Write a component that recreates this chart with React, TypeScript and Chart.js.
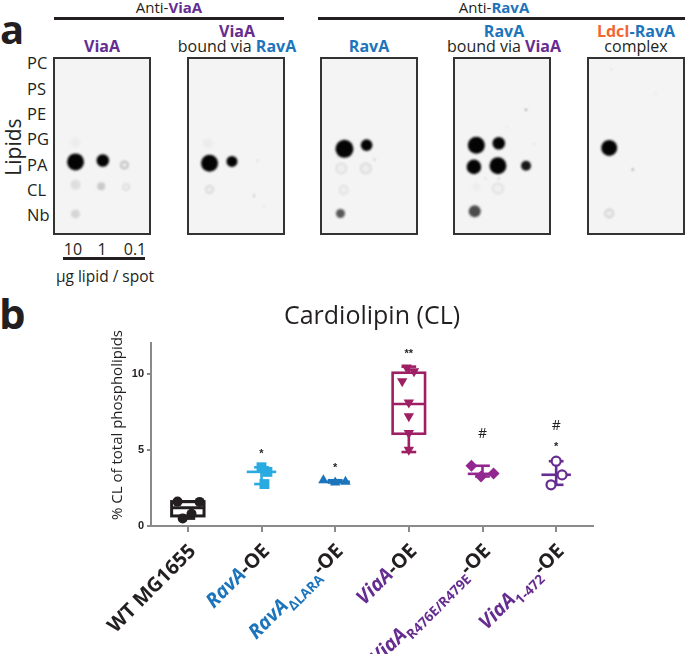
import React, { useEffect, useRef } from "react";
import { Chart, registerables } from "chart.js";

Chart.register(...registerables);

// ---------------- Panel a : dot blots ----------------
const LIPIDS = ["PC", "PS", "PE", "PG", "PA", "CL", "Nb"];
const DOSES = ["10", "1", "0.1"];

// each blot: spot column (dose units 0..3), row (lipid index), spot radius, darkness (0..1), ring (1 = hollow-looking)
const blot1Cols = [0.52, 1.53, 2.33, 0.52, 1.47, 2.39, 0.52, 0.52];
const blot1Rows = [3.93, 3.87, 4.07, 4.93, 4.99, 5.03, 6.2, 3.08];
const blot1Size = [8.5, 6.3, 3.5, 5, 4, 3, 4.5, 5];
const blot1Dark = [1, 1, 0.12, 0.09, 0.18, 0.05, 0.13, 0.035];
const blot1Ring = [0, 0, 1, 0, 0, 1, 0, 0];

const blot2Cols = [0.52, 1.35, 0.46, 0.52, 2.3, 2.17, 2.54];
const blot2Rows = [3.99, 3.91, 3.12, 5.13, 3.87, 5.41, 5.84];
const blot2Size = [8.5, 5.5, 5, 3.5, 0.8, 1, 0.7];
const blot2Dark = [1, 1, 0.035, 0.06, 0.3, 0.3, 0.2];
const blot2Ring = [0, 0, 0, 1, 0, 0, 0];

const blot3Cols = [0.58, 1.41, 0.46, 1.38, 0.55, 0.43, 1.71];
const blot3Rows = [3.36, 3.2, 4.22, 4.22, 5.17, 6.2, 3.83];
const blot3Size = [9, 5.8, 5, 5, 4, 4.5, 0.8];
const blot3Dark = [1, 1, 0.05, 0.06, 0.045, 0.65, 0.4];
const blot3Ring = [0, 0, 1, 1, 1, 0, 0];

const blot4Cols = [0.55, 1.38, 0.46, 1.35, 2.39, 0.55, 1.35, 0.49, 0.89, 1.38, 2.69, 1.68, 2.39];
const blot4Rows = [3.2, 3.12, 4.15, 4.1, 4.1, 5.01, 5.09, 6.08, 4.66, 4.66, 3.16, 2.41, 1.66];
const blot4Size = [8.5, 6.3, 7.3, 8.5, 5, 4, 5, 6, 0.7, 0.8, 0.7, 0.6, 1];
const blot4Dark = [1, 1, 1, 1, 0.92, 0.03, 0.045, 0.7, 0.3, 0.3, 0.2, 0.2, 0.5];
const blot4Ring = [0, 0, 0, 0, 0, 0, 1, 0, 0, 0, 0, 0, 0];

const blot5Cols = [0.52, 0.52, 1.38, 0.6, 2.22];
const blot5Rows = [3.32, 6.16, 4.26, -0.08, 0.95];
const blot5Size = [8, 4, 1, 0.6, 0.6];
const blot5Dark = [1, 0.08, 0.5, 0.3, 0.25];
const blot5Ring = [0, 1, 0, 0, 0];

// ---------------- Panel b : cardiolipin ----------------
const GROUPS = ["WT MG1655", "RavA-OE", "RavAΔLARA-OE", "ViaA-OE", "ViaAR476E/R479E-OE", "ViaA1-472-OE"];
const Y_TICKS = [0, 5, 10];

const wtCL = [1.6, 1.58, 0.8, 0.5];
const wtJitter = [-0.14, 0.16, 0.05, -0.07];
const ravaCL = [3.85, 3.55, 2.75];
const ravaJitter = [0, 0.08, 0.04];
const laraCL = [3.0, 2.85, 2.9];
const laraJitter = [-0.16, 0, 0.14];
const viaCL = [10.4, 10.15, 9.5, 8.1, 7.2, 6.1, 5.0];
const viaJitter = [-0.03, 0.07, -0.09, 0, 0, 0, 0];
const r476CL = [3.95, 3.45, 3.25];
const r476Jitter = [-0.15, 0.15, -0.02];
const truncCL = [4.25, 3.35, 2.7];
const truncJitter = [0, 0.08, -0.07];

const medians = [1.2, 3.55, 2.9, 8.0, 3.42, 3.36];
const mins = [0.5, 2.75, 2.85, 4.85, 3.25, 2.7];
const maxs = [1.6, 3.85, 3.0, 10.45, 3.95, 4.25];
const q1s = [0.66, null, null, 6.05, null, null];
const q3s = [1.6, null, null, 10.05, null, null];

const sigGroup = [1, 2, 3, 4, 5, 5];
const sigY = [4.75, 3.8, 11.25, 6.0, 6.55, 5.15];
const sigText = ["*", "*", "**", "#", "#", "*"];

const INK = "#231f20";
const CYAN = "#29abe2";
const BLUE = "#1c75bc";
const MAGENTA = "#9e1f63";
const VIOLET = "#92278f";
const PURPLE = "#662d91";
const ORANGE = "#f26532";
const AXIS = "#8a8a8a";
const GROUP_COLORS = [INK, CYAN, BLUE, MAGENTA, VIOLET, PURPLE];

type Part = { t: string; c: string; it?: boolean; sub?: boolean };
const xLabelParts: Part[][] = [
  [{ t: "WT MG1655", c: INK }],
  [{ t: "RavA", c: BLUE, it: true }, { t: "-OE", c: INK }],
  [{ t: "RavA", c: BLUE, it: true }, { t: "ΔLARA", c: BLUE, sub: true }, { t: "-OE", c: INK }],
  [{ t: "ViaA", c: PURPLE, it: true }, { t: "-OE", c: INK }],
  [{ t: "ViaA", c: PURPLE, it: true }, { t: "R476E/R479E", c: PURPLE, sub: true }, { t: "-OE", c: INK }],
  [{ t: "ViaA", c: PURPLE, it: true }, { t: "1-472", c: PURPLE, sub: true }, { t: "-OE", c: INK }],
];

const gray = (d: number) => {
  const v = Math.round(244 - 240 * Math.min(1, d));
  return `rgb(${v},${v},${v})`;
};

const blotPlugin = {
  id: "blotLook",
  beforeDraw(chart: any) {
    const { ctx, width, height } = chart;
    ctx.save();
    ctx.fillStyle = "#f4f4f4";
    ctx.fillRect(0, 0, width, height);
    ctx.restore();
  },
  beforeDatasetsDraw(chart: any) {
    chart.ctx.save();
    chart.ctx.filter = "blur(1.1px)";
  },
  afterDatasetsDraw(chart: any) {
    chart.ctx.restore();
  },
  afterDraw(chart: any) {
    const { ctx, width, height } = chart;
    ctx.save();
    ctx.strokeStyle = "#333";
    ctx.lineWidth = 2;
    ctx.strokeRect(1, 1, width - 2, height - 2);
    ctx.restore();
  },
};

const BLOT_W = 98;
const BLOT_H = 178;
const BLOT_TOP = 57;

function Blot(props: { left: number; cols: number[]; rows: number[]; size: number[]; dark: number[]; ring: number[] }) {
  const ref = useRef<HTMLCanvasElement>(null);
  useEffect(() => {
    const { cols, rows, size, dark, ring } = props;
    const chart = new Chart(ref.current as HTMLCanvasElement, {
      type: "scatter",
      data: {
        datasets: [
          {
            data: cols.map((c, i) => ({ x: c, y: rows[i] })),
            pointRadius: size,
            pointHoverRadius: size,
            backgroundColor: dark.map((d, i) => (ring[i] ? gray(d * 0.4) : gray(d))),
            borderColor: dark.map((d, i) => (ring[i] ? gray(d * 2.2) : gray(d))),
            borderWidth: ring.map((r) => (r ? 1.5 : 0)),
            clip: false as any,
          },
        ],
      },
      options: {
        animation: false,
        responsive: false,
        events: [],
        layout: { padding: 0 },
        plugins: { legend: { display: false }, tooltip: { enabled: false } },
        scales: {
          x: { type: "linear", display: false, min: 0, max: DOSES.length },
          y: { type: "linear", display: false, min: -0.276, max: 6.75, reverse: true },
        },
      },
      plugins: [blotPlugin],
    });
    return () => chart.destroy();
  }, []);
  return (
    <canvas
      ref={ref}
      width={BLOT_W}
      height={BLOT_H}
      style={{ position: "absolute", left: props.left, top: BLOT_TOP, width: BLOT_W, height: BLOT_H }}
    />
  );
}

const cardioPlugin = {
  id: "cardio",
  beforeDatasetsDraw(chart: any) {
    const { ctx } = chart;
    const x = chart.scales.x;
    const y = chart.scales.y;
    ctx.save();
    GROUPS.forEach((_, i) => {
      const col = GROUP_COLORS[i];
      ctx.strokeStyle = col;
      ctx.lineWidth = i === 0 ? 3 : 2.6;
      const X = (d: number) => x.getPixelForValue(i + d);
      const Y = (v: number) => y.getPixelForValue(v);
      const line = (x1: number, y1: number, x2: number, y2: number) => {
        ctx.beginPath();
        ctx.moveTo(x1, y1);
        ctx.lineTo(x2, y2);
        ctx.stroke();
      };
      const q1 = q1s[i];
      const q3 = q3s[i];
      if (q1 != null && q3 != null) {
        ctx.strokeRect(X(-0.22), Y(q3), X(0.22) - X(-0.22), Y(q1) - Y(q3));
        line(X(-0.22), Y(medians[i]), X(0.22), Y(medians[i]));
        line(X(0), Y(q3), X(0), Y(maxs[i]));
        line(X(0), Y(q1), X(0), Y(mins[i]));
      } else {
        line(X(-0.2), Y(medians[i]), X(0.2), Y(medians[i]));
        line(X(0), Y(mins[i]), X(0), Y(maxs[i]));
      }
      line(X(-0.1), Y(maxs[i]), X(0.1), Y(maxs[i]));
      line(X(-0.1), Y(mins[i]), X(0.1), Y(mins[i]));
    });
    ctx.restore();
  },
  afterDatasetsDraw(chart: any) {
    const { ctx } = chart;
    const x = chart.scales.x;
    const y = chart.scales.y;
    ctx.save();
    ctx.fillStyle = INK;
    ctx.textAlign = "center";
    ctx.textBaseline = "middle";
    sigText.forEach((t, k) => {
      ctx.font = t.includes("#") ? '14px "Open Sans"' : 'bold 11px "Liberation Sans"';
      ctx.fillText(t, x.getPixelForValue(sigGroup[k]), y.getPixelForValue(sigY[k]));
    });
    ctx.restore();
  },
  afterDraw(chart: any) {
    const { ctx } = chart;
    const x = chart.scales.x;
    const y = chart.scales.y;
    // y-axis title
    ctx.save();
    ctx.translate(118, 135);
    ctx.rotate(-Math.PI / 2);
    ctx.font = '15px "Open Sans"';
    ctx.fillStyle = INK;
    ctx.textAlign = "center";
    ctx.textBaseline = "middle";
    ctx.fillText("% CL of total phospholipids", 0, 0);
    ctx.restore();
    // rotated rich category labels
    const F = 20;
    xLabelParts.forEach((parts, i) => {
      ctx.save();
      ctx.translate(x.getPixelForValue(i) + 4, y.bottom + 21);
      ctx.rotate(-Math.PI / 4);
      ctx.textAlign = "left";
      ctx.textBaseline = "alphabetic";
      let cx = 0;
      for (let k = parts.length - 1; k >= 0; k--) {
        const p = parts[k];
        ctx.font = p.sub
          ? 'bold 13.5px "Open Sans"'
          : `${p.it ? "italic " : ""}bold ${F}px "Open Sans"`;
        const w = ctx.measureText(p.t).width;
        cx -= w;
        ctx.fillStyle = p.c;
        ctx.fillText(p.t, cx, p.sub ? F * 0.36 + 6 : F * 0.36);
      }
      ctx.restore();
    });
  },
};

function Cardio() {
  const ref = useRef<HTMLCanvasElement>(null);
  useEffect(() => {
    const pts = (vals: number[], jit: number[], g: number) => vals.map((v, i) => ({ x: g + jit[i], y: v }));
    const chart = new Chart(ref.current as HTMLCanvasElement, {
      type: "scatter",
      data: {
        datasets: [
          { label: GROUPS[0], data: pts(wtCL, wtJitter, 0), pointStyle: "circle", pointRadius: 5, backgroundColor: INK, borderColor: INK, borderWidth: 0 },
          { label: GROUPS[1], data: pts(ravaCL, ravaJitter, 1), pointStyle: "rect", pointRadius: 7, backgroundColor: CYAN, borderColor: CYAN, borderWidth: 0 },
          { label: GROUPS[2], data: pts(laraCL, laraJitter, 2), pointStyle: "triangle", pointRadius: 6, backgroundColor: BLUE, borderColor: BLUE, borderWidth: 0 },
          { label: GROUPS[3], data: pts(viaCL, viaJitter, 3), pointStyle: "triangle", pointRotation: 180, pointRadius: 6, backgroundColor: MAGENTA, borderColor: MAGENTA, borderWidth: 0 },
          { label: GROUPS[4], data: pts(r476CL, r476Jitter, 4), pointStyle: "rectRot", pointRadius: 6, backgroundColor: VIOLET, borderColor: VIOLET, borderWidth: 0 },
          { label: GROUPS[5], data: pts(truncCL, truncJitter, 5), pointStyle: "circle", pointRadius: 4.5, backgroundColor: "#ffffff", borderColor: PURPLE, borderWidth: 2.2 },
        ] as any,
      },
      options: {
        animation: false,
        responsive: false,
        events: [],
        layout: { padding: { left: 0, right: 92, top: 0, bottom: 0 } },
        plugins: {
          legend: { display: false },
          tooltip: { enabled: false },
          title: {
            display: true,
            text: "Cardiolipin (CL)",
            fullSize: false,
            color: INK,
            font: { family: "Open Sans", size: 25, weight: "normal" },
            padding: { top: 12, bottom: 11 },
          },
        },
        scales: {
          x: {
            type: "linear",
            min: -0.5,
            max: GROUPS.length - 0.5,
            afterBuildTicks: (s: any) => {
              s.ticks = GROUPS.map((_, i) => ({ value: i }));
            },
            afterFit: (s: any) => {
              s.height = 128;
            },
            ticks: { display: false },
            grid: { display: true, drawOnChartArea: false, drawTicks: true, tickLength: 6, color: AXIS, lineWidth: 2 },
            border: { display: true, color: AXIS, width: 2 },
          },
          y: {
            type: "linear",
            min: 0,
            max: 12,
            afterBuildTicks: (s: any) => {
              s.ticks = Y_TICKS.map((v) => ({ value: v }));
            },
            afterFit: (s: any) => {
              s.width = 151;
            },
            ticks: { color: INK, padding: 3, font: { family: "Liberation Sans", size: 11, weight: "bold" } },
            grid: { display: true, drawOnChartArea: false, drawTicks: true, tickLength: 4, color: AXIS, lineWidth: 2 },
            border: { display: true, color: AXIS, width: 2 },
          },
        },
      },
      plugins: [cardioPlugin],
    });
    return () => chart.destroy();
  }, []);
  return <canvas ref={ref} width={685} height={364} style={{ position: "absolute", left: 0, top: 290, width: 685, height: 364 }} />;
}

// centred text helper (x, y = visual centre of caps)
function T(props: { x: number; y: number; size?: number; bold?: boolean; align?: "center" | "left"; children: React.ReactNode; color?: string }) {
  const size = props.size ?? 15;
  const align = props.align ?? "center";
  return (
    <div
      style={{
        position: "absolute",
        left: align === "center" ? props.x - 150 : props.x,
        width: align === "center" ? 300 : undefined,
        top: props.y - 0.53 * size,
        fontSize: size,
        lineHeight: `${size}px`,
        fontWeight: props.bold ? 700 : 400,
        textAlign: align,
        whiteSpace: "nowrap",
        color: props.color ?? INK,
        fontFamily: '"Open Sans", sans-serif',
      }}
    >
      {props.children}
    </div>
  );
}

const B = (c: string, t: string) => <span style={{ color: c, fontWeight: 700 }}>{t}</span>;

function Bar(props: { x1: number; x2: number; y: number }) {
  return <div style={{ position: "absolute", left: props.x1, top: props.y - 1.5, width: props.x2 - props.x1, height: 3, background: INK }} />;
}

export default function App() {
  const rowYs = LIPIDS.map((_, i) => 64 + 25.33 * i);
  return (
    <div style={{ position: "absolute", left: 0, top: 0, width: 685, height: 654, overflow: "hidden", background: "#fff", fontFamily: '"Open Sans", sans-serif' }}>
      {/* panel letters */}
      <T x={0} y={30} size={40} bold align="left">a</T>
      <T x={-1} y={314} size={42} bold align="left">b</T>

      {/* group headers */}
      <T x={169} y={8}>Anti-{B(PURPLE, "ViaA")}</T>
      <Bar x1={54} x2={284} y={18} />
      <T x={494} y={8}>Anti-{B(BLUE, "RavA")}</T>
      <Bar x1={318} x2={685} y={18} />

      <T x={102} y={46} size={16}>{B(PURPLE, "ViaA")}</T>
      <T x={237} y={31} size={16}>{B(PURPLE, "ViaA")}</T>
      <T x={237} y={46} size={16}>bound via {B(BLUE, "RavA")}</T>
      <T x={369} y={46} size={16}>{B(BLUE, "RavA")}</T>
      <T x={504} y={31} size={16}>{B(BLUE, "RavA")}</T>
      <T x={504} y={46} size={16}>bound via {B(PURPLE, "ViaA")}</T>
      <T x={636} y={31} size={16}>{B(ORANGE, "LdcI")}{B(BLUE, "-RavA")}</T>
      <T x={636} y={46} size={16}>complex</T>

      {/* lipid rows */}
      {LIPIDS.map((l, i) => (
        <T key={l} x={27} y={rowYs[i]} size={16.5} align="left">{l}</T>
      ))}
      <div
        style={{
          position: "absolute",
          left: 13,
          top: 147,
          transform: "translate(-50%, -50%) rotate(-90deg)",
          fontSize: 21,
          lineHeight: "21px",
          color: INK,
          whiteSpace: "nowrap",
        }}
      >
        Lipids
      </div>

      {/* dose labels */}
      <T x={73} y={249} size={16}>{DOSES[0]}</T>
      <T x={102} y={249} size={16}>{DOSES[1]}</T>
      <T x={135} y={249} size={16}>{DOSES[2]}</T>
      <Bar x1={63} x2={145} y={258} />
      <T x={105} y={277} size={15.5}>µg lipid / spot</T>

      <Blot left={53} cols={blot1Cols} rows={blot1Rows} size={blot1Size} dark={blot1Dark} ring={blot1Ring} />
      <Blot left={187} cols={blot2Cols} rows={blot2Rows} size={blot2Size} dark={blot2Dark} ring={blot2Ring} />
      <Blot left={320} cols={blot3Cols} rows={blot3Rows} size={blot3Size} dark={blot3Dark} ring={blot3Ring} />
      <Blot left={453} cols={blot4Cols} rows={blot4Rows} size={blot4Size} dark={blot4Dark} ring={blot4Ring} />
      <Blot left={587} cols={blot5Cols} rows={blot5Rows} size={blot5Size} dark={blot5Dark} ring={blot5Ring} />

      <Cardio />
    </div>
  );
}
